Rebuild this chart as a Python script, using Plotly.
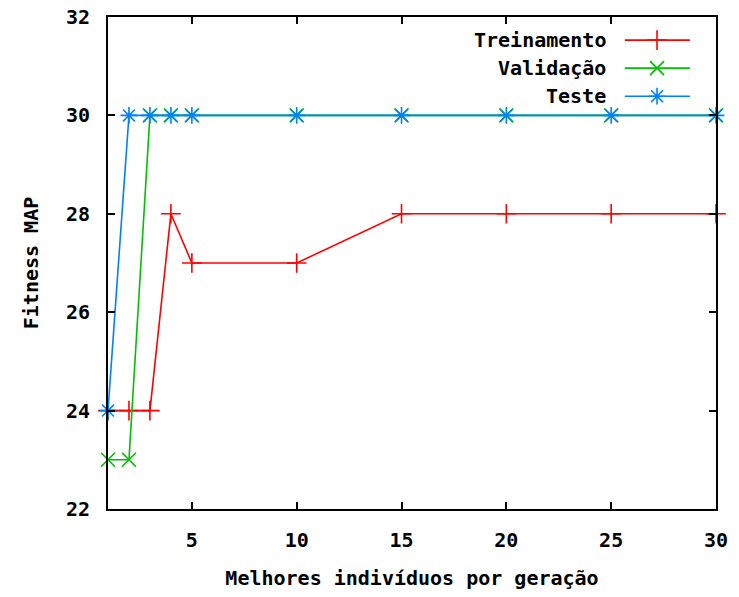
import plotly.graph_objects as go

# Número de melhores indivíduos por geração
x_vals = [1, 2, 3, 4, 5, 10, 15, 20, 25, 30]

# Fitness MAP de cada conjunto
treinamento = [24, 24, 24, 28, 27, 27, 28, 28, 28, 28]
validacao = [23, 23, 30, 30, 30, 30, 30, 30, 30, 30]
teste = [24, 30, 30, 30, 30, 30, 30, 30, 30, 30]

series_names = ["Treinamento", "Validação", "Teste"]
series_values = [treinamento, validacao, teste]
series_colors = ["#ff0000", "#00c000", "#0080ff"]
series_symbols = ["cross-thin", "x-thin", "asterisk"]

x_ticks = [5, 10, 15, 20, 25, 30]
y_ticks = [22, 24, 26, 28, 30, 32]

FONT = dict(family="DejaVu Sans Mono", size=20, color="black", weight="bold")

fig = go.Figure()

for name, vals, color, sym in zip(series_names, series_values, series_colors, series_symbols):
    fig.add_trace(go.Scatter(
        x=x_vals, y=vals, mode="lines+markers", name=name,
        line=dict(color=color, width=1.6),
        marker=dict(symbol=sym, size=14, color=color,
                    line=dict(color=color, width=1.6)),
        cliponaxis=False, showlegend=False,
    ))

# Legenda no estilo gnuplot: texto alinhado à direita, amostra depois do texto
legend_rows = [0.953, 0.896, 0.839]
for name, color, sym, ry in zip(series_names, series_colors, series_symbols, legend_rows):
    fig.add_trace(go.Scatter(
        x=[0.850, 0.957], y=[ry, ry], xaxis="x2", yaxis="y2",
        mode="lines", line=dict(color=color, width=1.6),
        showlegend=False, hoverinfo="skip",
    ))
    fig.add_trace(go.Scatter(
        x=[0.903], y=[ry], xaxis="x2", yaxis="y2",
        mode="markers",
        marker=dict(symbol=sym, size=14, color=color, line=dict(color=color, width=1.6)),
        showlegend=False, hoverinfo="skip",
    ))
    fig.add_annotation(
        x=0.822, y=ry, xref="x2", yref="y2", text=name, showarrow=False,
        xanchor="right", yanchor="middle", font=FONT,
    )

axis_common = dict(
    showgrid=False, zeroline=False, showline=True, linecolor="black", linewidth=2,
    mirror="allticks", ticks="inside", ticklen=7, tickwidth=1.5, tickcolor="black",
    tickfont=FONT, automargin=False,
)

fig.update_layout(
    width=739, height=597,
    margin=dict(l=108, r=23, t=17, b=88),
    paper_bgcolor="white", plot_bgcolor="white",
    xaxis=dict(range=[1, 30], tickvals=x_ticks, ticklabelstandoff=12,
               title=dict(text="Melhores indivíduos por geração", font=FONT, standoff=20),
               **axis_common),
    yaxis=dict(range=[22, 32], tickvals=y_ticks, ticklabelstandoff=12,
               title=dict(text="Fitness MAP", font=FONT, standoff=22),
               **axis_common),
    xaxis2=dict(range=[0, 1], overlaying="x", visible=False, fixedrange=True),
    yaxis2=dict(range=[0, 1], overlaying="y", visible=False, fixedrange=True),
)

fig.write_html("out.html")
